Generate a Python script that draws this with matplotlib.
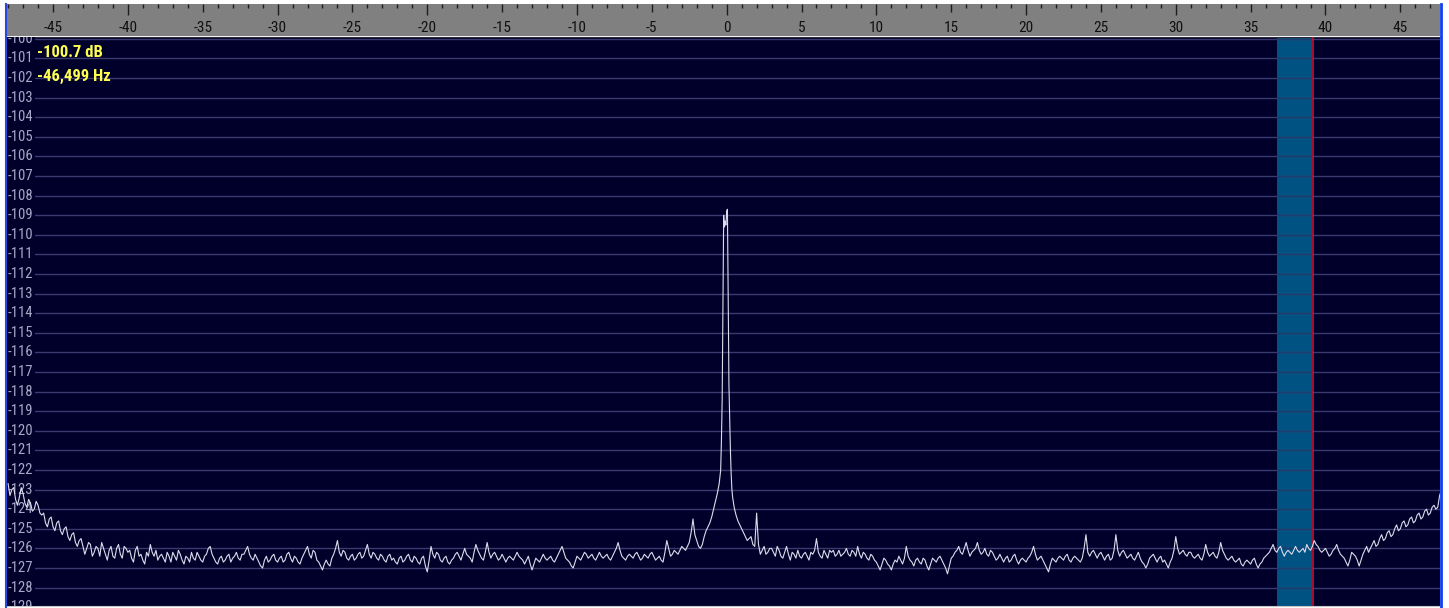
import numpy as np
import matplotlib
matplotlib.use("Agg")
import matplotlib.pyplot as plt
from matplotlib import font_manager as fm
from matplotlib.lines import Line2D

# spectrum trace, one value every 0.25 kHz starting at -48 kHz
noise_db = [
    -122.7, -123.0, -123.5, -123.4, -123.2, -123.9, -123.7, -124.0, -123.8, -124.3,
    -124.7, -124.5, -124.9, -124.7, -125.1, -125.0, -125.4, -125.3, -125.7, -125.6,
    -125.9, -126.0, -125.8, -126.2, -126.0, -125.7, -126.3, -126.1, -126.4, -126.0,
    -126.3, -125.9, -126.2, -126.5, -126.1, -126.4, -126.6, -126.2, -125.8, -126.4,
    -126.6, -126.3, -126.7, -126.4, -126.2, -126.6, -126.3, -126.8, -126.5, -126.2,
    -126.6, -126.4, -126.7, -126.3, -125.9, -126.5, -126.8, -126.4, -126.6, -126.3,
    -126.5, -126.2, -126.6, -126.3, -125.9, -126.5, -126.3, -126.7, -127.0, -126.4,
    -126.6, -126.3, -126.7, -126.4, -126.6, -126.2, -126.7, -126.5, -126.8, -126.3,
    -125.9, -126.5, -126.2, -126.7, -127.1, -126.6, -126.9, -126.3, -125.6, -126.4,
    -126.2, -126.6, -126.3, -126.5, -126.2, -126.4, -125.8, -126.5, -126.3, -126.6,
    -126.4, -126.7, -126.3, -126.5, -126.8, -126.4, -126.6, -126.3, -126.7, -126.5,
    -126.8, -126.4, -127.2, -125.9, -126.5, -126.3, -126.7, -126.4, -126.8, -126.5,
    -126.2, -126.6, -126.0, -126.4, -126.7, -125.8, -126.3, -126.6, -125.7, -126.5,
    -126.2, -126.6, -126.3, -126.7, -126.4, -126.6, -126.2, -126.5, -126.8, -126.4,
    -127.1, -126.5, -126.7, -126.3, -126.6, -126.4, -126.7, -126.3, -125.9, -126.5,
    -126.7, -127.0, -126.4, -126.6, -126.2, -126.5, -126.3, -126.6, -126.2, -126.5,
    -126.3, -126.6, -126.2, -125.7, -126.4, -126.6, -126.3, -126.5, -126.2, -126.6,
    -126.3, -126.5, -126.2, -126.6, -126.4, -126.7, -125.6, -126.4, -126.1, -126.3,
    -125.9, -126.1, -125.7, -124.5, -125.6, -126.0, -125.4, -124.9, -124.4, -123.6,
    -122.7, -113.5, -108.8, -121.0, -123.9, -124.6, -125.0, -125.4, -125.5, -125.8,
    -124.2, -126.3, -125.9, -126.2, -126.0, -126.4, -126.1, -126.5, -125.9, -126.6,
    -126.3, -126.1, -126.5, -126.2, -126.6, -126.3, -125.5, -126.4, -126.1, -126.5,
    -126.2, -126.4, -126.1, -126.3, -126.0, -126.4, -126.2, -125.9, -126.5, -126.3,
    -126.6, -126.4, -126.7, -127.1, -126.5, -126.8, -127.1, -126.6, -126.4, -126.8,
    -125.9, -126.6, -126.9, -126.5, -126.8, -126.6, -127.1, -126.5, -126.7, -126.4,
    -126.8, -127.3, -126.5, -126.2, -125.9, -126.3, -125.7, -126.4, -126.1, -125.7,
    -126.3, -126.0, -126.4, -126.2, -126.6, -126.3, -126.7, -126.4, -126.6, -126.3,
    -126.8, -126.5, -126.7, -126.4, -125.9, -126.6, -126.4, -126.8, -127.2, -126.5,
    -126.7, -126.4, -126.6, -126.3, -126.7, -126.4, -126.6, -126.5, -125.3, -126.4,
    -126.1, -126.5, -126.2, -126.6, -126.3, -126.5, -125.3, -126.4, -126.1, -126.5,
    -126.3, -126.6, -126.2, -126.7, -127.0, -126.5, -126.3, -126.7, -126.4, -126.6,
    -127.0, -126.5, -125.4, -126.3, -126.1, -126.4, -126.2, -126.5, -126.3, -126.6,
    -125.8, -126.4, -126.2, -126.5, -125.7, -126.3, -126.6, -126.4, -126.7, -126.5,
    -126.9, -126.6, -126.8, -126.5, -127.0, -126.7, -126.4, -126.2, -125.8, -126.2,
    -125.9, -126.4, -126.1, -126.3, -125.9, -126.2, -126.0, -125.8, -126.1, -125.6,
    -125.9, -126.2, -126.0, -126.4, -126.1, -125.8, -126.3, -126.5, -126.9, -126.2,
    -126.4, -126.9, -126.3, -125.9, -126.0, -125.6, -125.8, -125.3, -125.5, -125.1,
    -125.3, -124.8, -125.0, -124.6, -124.8, -124.4, -124.6, -124.2, -124.4, -124.0,
    -124.2, -123.8, -123.9, -123.0,
]
# the bins in between, starting at -47.875 kHz
noise_mid_db = [
    -123.3, -122.9, -123.8, -122.9, -123.7, -123.5, -124.1, -123.6, -124.2, -124.2,
    -124.9, -124.4, -125.1, -124.6, -125.3, -124.9, -125.6, -125.2, -125.9, -125.5,
    -126.3, -125.7, -126.4, -125.9, -126.4, -126.0, -126.6, -125.9, -126.5, -125.8,
    -126.5, -126.0, -126.1, -126.7, -125.9, -126.3, -126.8, -126.4, -126.2, -126.1,
    -126.4, -126.5, -126.2, -126.7, -126.4, -126.1, -126.6, -126.4, -126.7, -126.5,
    -126.2, -126.6, -126.4, -126.0, -126.3, -126.7, -126.5, -126.7, -126.4, -126.7,
    -126.4, -126.5, -126.3, -126.1, -126.3, -126.6, -126.5, -126.9, -126.6, -126.7,
    -126.4, -126.6, -126.5, -126.7, -126.3, -126.5, -126.4, -126.7, -126.5, -126.1,
    -126.3, -126.1, -126.6, -126.9, -126.8, -126.8, -126.5, -126.0, -126.2, -126.1,
    -126.5, -126.4, -126.6, -126.3, -126.5, -126.1, -126.3, -126.2, -126.5, -126.3,
    -126.6, -126.4, -126.6, -126.7, -126.5, -126.7, -126.4, -126.6, -126.4, -126.7,
    -126.5, -126.9, -126.6, -126.3, -126.2, -126.6, -126.5, -126.7, -126.6, -126.3,
    -126.4, -126.3, -126.3, -126.5, -126.2, -126.1, -126.5, -126.2, -126.2, -126.3,
    -126.4, -126.5, -126.5, -126.5, -126.5, -126.4, -126.4, -126.6, -126.6, -126.8,
    -126.8, -126.6, -126.5, -126.5, -126.5, -126.6, -126.5, -126.1, -126.2, -126.6,
    -126.9, -126.7, -126.5, -126.4, -126.3, -126.4, -126.5, -126.4, -126.4, -126.4,
    -126.5, -126.4, -126.0, -126.1, -126.5, -126.4, -126.4, -126.3, -126.4, -126.5,
    -126.4, -126.3, -126.4, -126.5, -126.6, -126.2, -126.0, -126.3, -126.2, -126.1,
    -126.0, -125.9, -125.2, -125.3, -125.9, -125.8, -125.1, -124.7, -124.0, -123.2,
    -121.2, -109.5, -115.2, -123.2, -124.3, -124.8, -125.2, -125.6, -125.4, -125.9,
    -125.8, -126.1, -126.3, -126.0, -126.2, -125.9, -126.4, -126.2, -126.3, -126.2,
    -126.5, -126.4, -126.3, -126.4, -126.2, -126.1, -126.2, -126.5, -126.3, -126.1,
    -126.1, -126.3, -126.4, -126.2, -126.3, -126.1, -126.4, -126.3, -126.2, -126.5,
    -126.3, -126.6, -126.9, -126.8, -126.6, -126.9, -126.8, -126.7, -126.6, -126.5,
    -126.4, -126.7, -126.6, -126.7, -126.5, -126.9, -126.8, -126.6, -126.5, -126.6,
    -127.0, -126.9, -126.4, -126.1, -126.2, -126.0, -126.1, -126.2, -126.0, -126.1,
    -126.2, -126.3, -126.1, -126.4, -126.5, -126.5, -126.5, -126.7, -126.4, -126.6,
    -126.6, -126.6, -126.5, -126.2, -126.3, -126.5, -126.6, -127.0, -126.8, -126.6,
    -126.5, -126.5, -126.4, -126.6, -126.5, -126.5, -126.7, -126.0, -126.2, -126.2,
    -126.3, -126.3, -126.4, -126.4, -126.6, -126.1, -126.1, -126.2, -126.3, -126.4,
    -126.5, -126.4, -126.5, -126.8, -126.8, -126.4, -126.5, -126.5, -126.7, -126.8,
    -126.7, -126.1, -126.0, -126.2, -126.3, -126.2, -126.4, -126.4, -126.5, -126.3,
    -126.2, -126.3, -126.4, -126.2, -126.1, -126.5, -126.5, -126.6, -126.6, -126.8,
    -126.7, -126.7, -126.6, -126.8, -126.8, -126.5, -126.3, -126.0, -126.1, -126.0,
    -126.2, -126.2, -126.2, -126.1, -126.1, -126.1, -126.2, -126.0, -125.9, -125.8,
    -126.1, -126.1, -126.2, -126.3, -126.0, -126.1, -126.4, -126.7, -126.6, -126.3,
    -126.6, -126.6, -126.1, -126.2, -125.8, -125.9, -125.5, -125.6, -125.2, -125.4,
    -125.0, -125.1, -124.7, -124.9, -124.5, -124.7, -124.3, -124.5, -124.1, -124.3,
    -123.9, -124.0, -123.3,
]
grid_start_khz = -48.0
mid_start_khz = -47.875
grid_step_khz = 0.25

# extra points on the carrier at 0 kHz
carrier_khz = [-0.4, -0.35, -0.3, -0.2, -0.15, -0.1, -0.05,
               0.05, 0.1, 0.15, 0.2, 0.3, 0.35, 0.4]
carrier_db = [-122.0, -120.5, -118.4, -109.0, -109.6, -109.3, -109.5,
              -108.7, -112.8, -117.6, -119.4, -122.2, -123.0, -123.4]

freq_ticks = list(range(-45, 50, 5))
db_levels = list(range(-129, -99))
band_khz = (36.78, 39.08)
marker_khz = 39.19
readout = ["-100.7 dB", "-46,499 Hz"]

x_range = (-48.14, 47.65)
y_range = (-128.94, -99.91)

W, H = 1449, 608
bg = "#00002a"

# narrow face for the labels, DejaVu Sans if none of them is there
face_names = {f.name for f in fm.fontManager.ttflist}
narrow_faces = ["Liberation Sans Narrow", "Roboto Condensed", "Archivo Narrow",
                "PT Sans Narrow", "IBM Plex Sans Condensed"]
found = [n for n in narrow_faces if n in face_names]
if found:
    font = dict(family=[found[0], "DejaVu Sans"])
    sizes = dict(axis=10.5, ruler=11, readout=12)
else:
    font = dict(family=["DejaVu Sans"])
    sizes = dict(axis=8.5, ruler=8.5, readout=10)

grid_f = grid_start_khz + grid_step_khz * np.arange(len(noise_db))
mid_f = mid_start_khz + grid_step_khz * np.arange(len(noise_mid_db))
freq = np.concatenate([grid_f, mid_f, carrier_khz])
level = np.concatenate([noise_db, noise_mid_db, carrier_db])
order = np.argsort(freq)
freq, level = freq[order], level[order]

fig = plt.figure(figsize=(W / 100, H / 100), dpi=100, facecolor="white")

# spectrum area
ax = fig.add_axes([6 / W, 2 / H, 1434 / W, 569 / H])
ax.set_facecolor(bg)
ax.set_xlim(*x_range)
ax.set_ylim(*y_range)
ax.set_xticks([])
ax.set_yticks([])
for side in ["left", "right"]:
    ax.spines[side].set_visible(False)
ax.spines["top"].set_color("#2a2a3c")
ax.spines["bottom"].set_color("#c8c8c8")

ax.axvspan(band_khz[0], band_khz[1], color="#005282", lw=0, zorder=1)
for v in db_levels:
    ax.axhline(v, color="#3a3a6e", lw=1.0, zorder=2)
ax.hlines(db_levels, band_khz[0], band_khz[1], color="#1b3e6e", lw=1.0, zorder=3)
ax.axvline(marker_khz, color="#c8102e", lw=1.2, zorder=4)

for v in db_levels:
    ax.text(0.0012, v, str(v), transform=ax.get_yaxis_transform(),
            ha="left", va="center", fontsize=sizes["axis"], color="#a8a8c8",
            bbox=dict(boxstyle="square,pad=0.1", fc=bg, ec="none"),
            clip_on=True, zorder=3.5, **font)

ax.plot(freq, level, color="#dcdcec", lw=0.8, zorder=5)

ax.text(31 / 1434, 0.972, readout[0], transform=ax.transAxes, ha="left", va="center",
        fontsize=sizes["readout"], weight="bold", color="#ffff50", zorder=6, **font)
ax.text(31 / 1434, 0.931, readout[1], transform=ax.transAxes, ha="left", va="center",
        fontsize=sizes["readout"], weight="bold", color="#ffff50", zorder=6, **font)

# frequency ruler on top
ruler = fig.add_axes([6 / W, (H - 36) / H, 1434 / W, 32 / H])
ruler.set_facecolor("#808080")
ruler.set_xlim(*x_range)
ruler.set_ylim(32, 0)
ruler.set_xticks([])
ruler.set_yticks([])
for s in ruler.spines.values():
    s.set_visible(False)

for k in range(-48, 48):
    if k % 10 == 0:
        length = 11
    elif k % 5 == 0:
        length = 8
    else:
        length = 4
    ruler.vlines(k, 0, length, color="#1e1e1e", lw=1.0)
for t in freq_ticks:
    ruler.text(t, 23.5, str(t), ha="center", va="center", fontsize=sizes["ruler"],
               color="#101010", **font)

# window border
fig.add_artist(Line2D([5.5 / W, 5.5 / W], [0, 1 - 4 / H], color="#2a48e0", lw=1.5))
fig.add_artist(Line2D([1440.5 / W, 1440.5 / W], [0, 1 - 4 / H], color="#1040f0", lw=2.0))

fig.savefig("out.png", dpi=100, facecolor="white")
